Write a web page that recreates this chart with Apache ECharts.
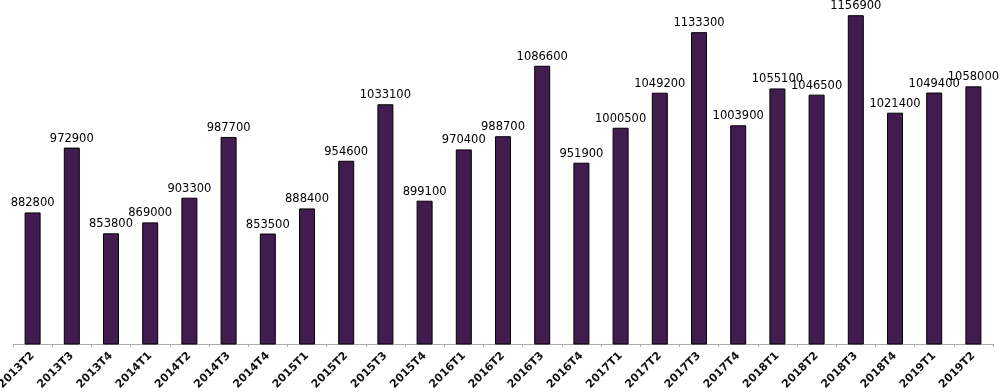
<!DOCTYPE html>
<html><head><meta charset="utf-8">
<script src="https://cdn.jsdelivr.net/npm/echarts@6/dist/echarts.min.js"></script>
<style>html,body{margin:0;padding:0;background:#fff}#c{width:1000px;height:392px}</style>
</head><body><div id="c"></div>
<script>
const categories = ["2013T2","2013T3","2013T4","2014T1","2014T2","2014T3","2014T4","2015T1","2015T2","2015T3","2015T4","2016T1","2016T2","2016T3","2016T4","2017T1","2017T2","2017T3","2017T4","2018T1","2018T2","2018T3","2018T4","2019T1","2019T2"];
const values = [882800,972900,853800,869000,903300,987700,853500,888400,954600,1033100,899100,970400,988700,1086600,951900,1000500,1049200,1133300,1003900,1055100,1046500,1156900,1021400,1049400,1058000];
const chart = echarts.init(document.getElementById('c'));
chart.setOption({
  animation: false,
  grid: {left: 13, right: 7, top: 0, bottom: 48, containLabel: false, outerBoundsMode: 'none'},
  xAxis: {
    type: 'category', data: categories,
    axisLine: {lineStyle: {color: '#aaa', width: 1}},
    axisTick: {show: true, length: 3, lineStyle: {color: '#aaa'}},
    axisLabel: {rotate: 45, interval: 0, fontFamily: 'DejaVu Sans', fontWeight: 'bold', fontSize: 11, color: '#111', margin: 10}
  },
  yAxis: {type: 'value', min: 700000, max: 1178000, show: false, splitLine: {show: false}},
  series: [{
    type: 'bar', data: values, barWidth: 16,
    itemStyle: {color: '#421c4f', borderColor: '#000', borderWidth: 1},
    label: {show: true, position: 'top', distance: 3, fontFamily: 'DejaVu Sans', fontSize: 11.5, color: '#000'}
  }]
});
</script></body></html>
